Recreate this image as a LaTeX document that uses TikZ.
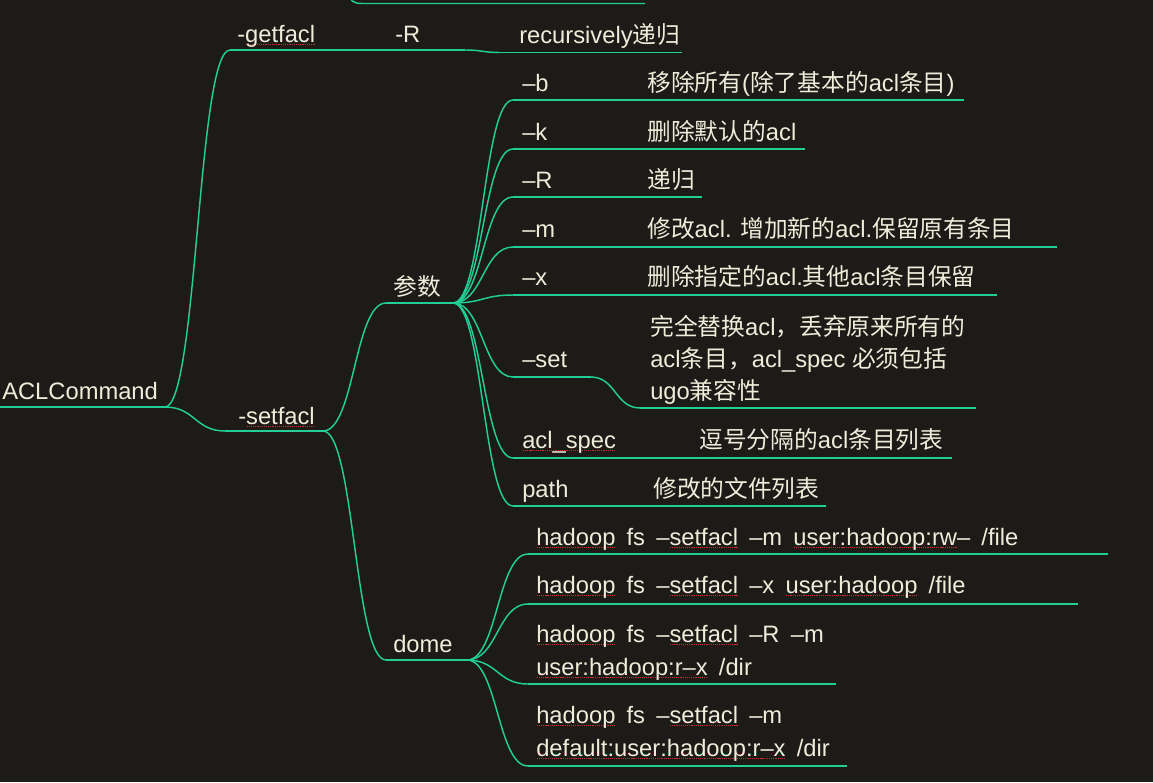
\documentclass[tikz,border=0pt]{standalone}
\usepackage{fontspec}
\setmainfont{Liberation Sans}
\newfontfamily\cjkfont{Noto Sans CJK SC}
\usetikzlibrary{calc}
\definecolor{bg}{RGB}{28,27,24}
\definecolor{ln}{RGB}{34,206,150}
\definecolor{fg}{RGB}{240,236,218}
\definecolor{sqred}{RGB}{200,45,45}
\newcommand\zh[1]{{\cjkfont #1}}
\newcommand\widesp{\spaceskip=8.4pt\relax}
\newcommand\sq[1]{\setbox0=\hbox{#1}\rlap{\raisebox{-2.6pt}[0pt][0pt]{\color{sqred}\hbox to \wd0{\xleaders\hbox to 1.6pt{\hss\rule{0.9pt}{0.9pt}\hss}\hfill}}}\box0\relax}
\begin{document}
\begin{tikzpicture}[x=0.75pt,y=-0.75pt,
 txt/.style={anchor=base west,inner sep=0pt,text=fg,font=\fontsize{17.8}{21}\selectfont},
 br/.style={draw=ln,line width=1.1pt},
 mm/.style={to path={let \p1=(\tikztostart),\p2=(\tikztotarget) in .. controls ({(\x1+\x2)/2},\y1) and ({(\x1+\x2)/2},\y2) .. (\tikztotarget)}}]
\fill[bg] (0,0) rectangle (1153,782);
\useasboundingbox (0,0) rectangle (1153,782);

% ---------- coordinates ----------
\coordinate (topA) at (346,-8);
\coordinate (topB) at (362,3.5);
\coordinate (topC) at (645,3.5);

\coordinate (aclL) at (0,407);   \coordinate (aclR) at (165,407);
\coordinate (getL) at (230,50);  \coordinate (getR) at (385,50);
\coordinate (rR)   at (465,50);
\coordinate (recL) at (500,52.5); \coordinate (recR) at (682,52.5);
\coordinate (setL) at (225,431); \coordinate (setR) at (323,431);
\coordinate (pL) at (386,303);   \coordinate (pR) at (453,303);
\coordinate (dL) at (386,660);   \coordinate (dR) at (467,660);

\coordinate (bL) at (513,100);  \coordinate (bR) at (964,100);
\coordinate (kL) at (513,149);  \coordinate (kR) at (805,149);
\coordinate (RL) at (513,197);  \coordinate (RR) at (702,197);
\coordinate (mL) at (513,247);  \coordinate (mR) at (1057,247);
\coordinate (xL) at (513,295);  \coordinate (xR) at (997,295);
\coordinate (sL) at (513,377);  \coordinate (sR) at (591,377);
\coordinate (sdL) at (640,408); \coordinate (sdR) at (976,408);
\coordinate (aL) at (513,458);  \coordinate (aR) at (952,458);
\coordinate (paL) at (513,506); \coordinate (paR) at (826,506);

\coordinate (e1L) at (528,554); \coordinate (e1R) at (1108,554);
\coordinate (e2L) at (528,604); \coordinate (e2R) at (1078,604);
\coordinate (e3L) at (528,684); \coordinate (e3R) at (836,684);
\coordinate (e4L) at (528,766); \coordinate (e4R) at (847,766);

% ---------- connectors ----------
\draw[br] (topA) .. controls (351,1) and (353,3.5) .. (topB) -- (topC);
\draw[br] (aclL) -- (aclR);
\draw[br] (aclR) to[mm] (getL);
\draw[br] (getL) -- (getR) -- (rR);
\draw[br] (rR) to[mm] (recL);
\draw[br] (recL) -- (recR);
\draw[br] (aclR) to[mm] (setL);
\draw[br] (setL) -- (setR);
\draw[br] (setR) to[mm] (pL);
\draw[br] (setR) to[mm] (dL);
\draw[br] (pL) -- (pR);
\draw[br] (dL) -- (dR);

\foreach \c in {b,k,R,m,x,s,a,pa}{
  \draw[br] (pR) to[mm] (\c L);
}
\draw[br] (bL) -- (bR);
\draw[br] (kL) -- (kR);
\draw[br] (RL) -- (RR);
\draw[br] (mL) -- (mR);
\draw[br] (xL) -- (xR);
\draw[br] (sL) -- (sR);
\draw[br] (sR) to[mm] (sdL);
\draw[br] (sdL) -- (sdR);
\draw[br] (aL) -- (aR);
\draw[br] (paL) -- (paR);

\foreach \c in {e1,e2,e3,e4}{
  \draw[br] (dR) to[mm] (\c L);
  \draw[br] (\c L) -- (\c R);
}

% ---------- texts ----------
\node[txt] (acl) at (2,399) {ACLCommand};
\node[txt] (get) at (237,42) {-\sq{getfacl}};
\node[txt] (getRn) at (395,42) {-R};
\node[txt] (rec) at (519,43.5) {recursively\zh{递归}};
\node[txt] (set) at (238,424) {-\sq{setfacl}};
\node[txt] (par) at (393,295) {\zh{参数}};
\node[txt] (dome) at (393,652) {dome};

\node[txt] (ob) at (522,91) {–b};
\node[txt] (obd) at (647,91) {\zh{移除所有}(\zh{除了基本的}acl\zh{条目})};
\node[txt] (ok) at (522,140) {–k};
\node[txt] (okd) at (647,140) {\zh{删除默认的}acl};
\node[txt] (oR) at (522,188) {–R};
\node[txt] (oRd) at (647,188) {\zh{递归}};
\node[txt] (om) at (522,237) {–m};
\node[txt] (omd) at (647,237) {\zh{修改}acl. \zh{增加新的}acl.\zh{保留原有条目}};
\node[txt] (ox) at (522,285) {–x};
\node[txt] (oxd) at (647,285) {\zh{删除指定的}acl.\zh{其他}acl\zh{条目保留}};
\node[txt] (os) at (522,367) {–set};
\node[txt] (osd1) at (650,335) {\zh{完全替换}acl\zh{，丢弃原来所有的}};
\node[txt] (osd2) at (650,367) {acl\zh{条目，}acl\_spec \zh{必须包括}};
\node[txt] (osd3) at (650,399) {ugo\zh{兼容性}};
\node[txt] (oa) at (522,448) {\sq{acl\_spec}};
\node[txt] (oad) at (699,448) {\zh{逗号分隔的}acl\zh{条目列表}};
\node[txt] (op) at (522,497) {path};
\node[txt] (opd) at (653,497) {\zh{修改的文件列表}};

\node[txt] (e1) at (536,545) {\widesp\sq{hadoop} fs –\sq{setfacl} –m \sq{user:hadoop:rw}– /file};
\node[txt] (e2) at (536,593) {\widesp\sq{hadoop} fs –\sq{setfacl} –x \sq{user:hadoop} /file};
\node[txt] (e3a) at (536,642) {\widesp\sq{hadoop} fs –\sq{setfacl} –R –m};
\node[txt] (e3b) at (536,675) {\widesp\sq{user:hadoop:r–x} /dir};
\node[txt] (e4a) at (536,723) {\widesp\sq{hadoop} fs –\sq{setfacl} –m};
\node[txt] (e4b) at (536,756) {\widesp\sq{default:user:hadoop:r–x} /dir};
\end{tikzpicture}
\end{document}
